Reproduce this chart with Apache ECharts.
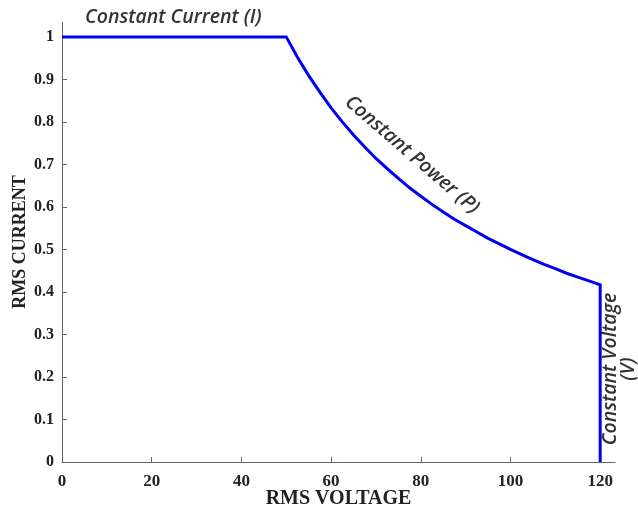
<!DOCTYPE html>
<html>
<head>
<meta charset="utf-8">
<script src="https://cdn.jsdelivr.net/npm/echarts@6/dist/echarts.min.js"></script>
<style>
  html, body { margin: 0; padding: 0; background: #fff; }
  #chart { width: 638px; height: 511px; }
</style>
</head>
<body>
<div id="chart"></div>
<script>
// Operating envelope: constant current, then constant power, then constant voltage
const voltage = [0, 50, 52.5, 55, 57.5, 60, 62.5, 65, 67.5, 70, 72.5, 75, 77.5, 80, 82.5, 85,
  87.5, 90, 92.5, 95, 97.5, 100, 102.5, 105, 107.5, 110, 112.5, 115, 117.5, 120, 120];
const current = [1, 1, 0.952, 0.909, 0.87, 0.833, 0.8, 0.769, 0.741, 0.714, 0.69, 0.667, 0.645, 0.625, 0.606, 0.588,
  0.571, 0.556, 0.541, 0.526, 0.513, 0.5, 0.488, 0.476, 0.465, 0.455, 0.444, 0.435, 0.426, 0.417, 0];

const xTicks = [0, 20, 40, 60, 80, 100, 120];
const yTicks = [0, 0.1, 0.2, 0.3, 0.4, 0.5, 0.6, 0.7, 0.8, 0.9, 1];

const points = voltage.map((v, i) => [v, current[i]]);

const serifBold = { fontFamily: 'Liberation Serif', fontWeight: 'bold', color: '#222' };
const noteFont = {
  fontFamily: 'Open Sans',
  fontStyle: 'italic',
  fontWeight: 600,
  fontSize: 19.5,
  fill: '#333'
};

const chart = echarts.init(document.getElementById('chart'));
chart.setOption({
  animation: false,
  grid: { left: 62, right: 23, top: 22, bottom: 49, outerBoundsMode: 'none', containLabel: false },
  xAxis: {
    type: 'value',
    min: 0,
    max: 123.3,
    name: 'RMS VOLTAGE',
    nameLocation: 'middle',
    nameGap: 27,
    nameMoveOverlap: false,
    nameTextStyle: Object.assign({ fontSize: 20 }, serifBold),
    splitLine: { show: false },
    axisLine: { lineStyle: { color: '#666', width: 1 } },
    axisTick: { inside: true, length: 5, customValues: xTicks, lineStyle: { color: '#666' } },
    axisLabel: Object.assign({ margin: 11, fontSize: 17, customValues: xTicks }, serifBold)
  },
  yAxis: {
    type: 'value',
    min: 0,
    max: 1.035,
    name: 'RMS CURRENT',
    nameLocation: 'middle',
    nameGap: 33,
    nameMoveOverlap: false,
    nameRotate: 90,
    nameTextStyle: Object.assign({ fontSize: 18 }, serifBold),
    splitLine: { show: false },
    axisLine: { show: true, lineStyle: { color: '#666', width: 1 } },
    axisTick: { show: true, inside: true, length: 5, customValues: yTicks, lineStyle: { color: '#666' } },
    axisLabel: Object.assign({ margin: 8, fontSize: 16, customValues: yTicks }, serifBold)
  },
  series: [{
    type: 'line',
    data: points,
    showSymbol: false,
    lineStyle: { color: '#0000f0', width: 3, join: 'miter' },
    z: 3
  }],
  graphic: [
    {
      type: 'text', left: 85, top: 7,
      style: Object.assign({ text: 'Constant Current (I)' }, noteFont)
    },
    {
      type: 'text', x: 412, y: 155, rotation: -0.71,
      style: Object.assign({ text: 'Constant Power (P)', align: 'center', verticalAlign: 'middle' }, noteFont)
    },
    {
      type: 'text', x: 619, y: 369, rotation: Math.PI / 2,
      style: Object.assign({ text: 'Constant Voltage\n(V)', align: 'center', verticalAlign: 'middle', lineHeight: 18 }, noteFont)
    }
  ]
});
</script>
</body>
</html>
